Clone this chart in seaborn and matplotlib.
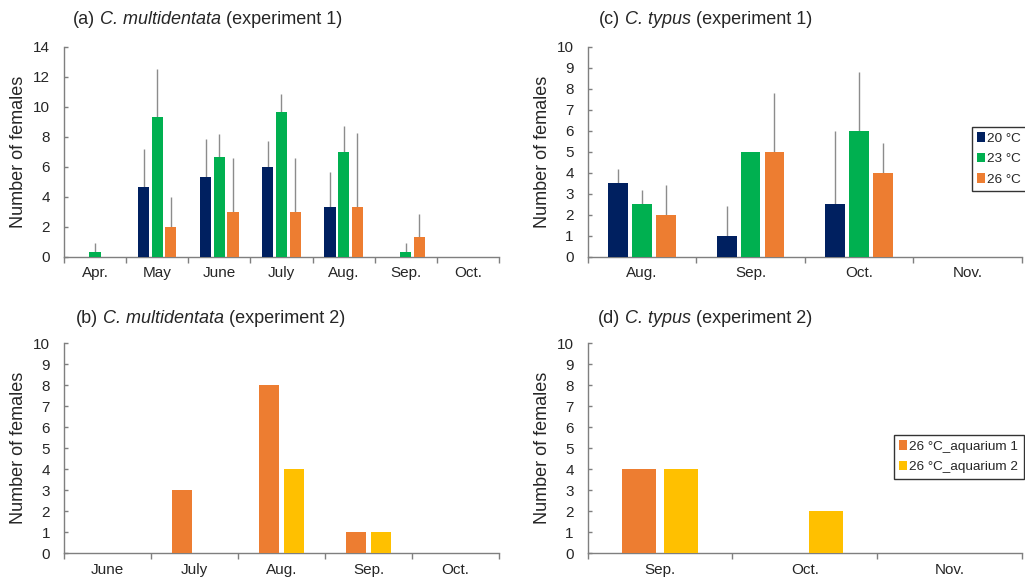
import pandas as pd
import seaborn as sns
import matplotlib.pyplot as plt
from matplotlib.ticker import MultipleLocator, FixedLocator

# (a) C. multidentata, experiment 1
months_a = ["Apr.", "May", "June", "July", "Aug.", "Sep.", "Oct."]
a_20 = [0, 4.67, 5.33, 6.0, 3.33, 0, 0]
a_23 = [0.33, 9.33, 6.67, 9.67, 7.0, 0.33, 0]
a_26 = [0, 2.0, 3.0, 3.0, 3.33, 1.33, 0]
a_20_sd = [0, 2.5, 2.5, 1.73, 2.3, 0, 0]
a_23_sd = [0.6, 3.2, 1.5, 1.15, 1.7, 0.6, 0]
a_26_sd = [0, 2.0, 3.6, 3.6, 4.9, 1.53, 0]

# (c) C. typus, experiment 1
months_c = ["Aug.", "Sep.", "Oct.", "Nov."]
c_20 = [3.5, 1.0, 2.5, 0]
c_23 = [2.5, 5.0, 6.0, 0]
c_26 = [2.0, 5.0, 4.0, 0]
c_20_sd = [0.7, 1.4, 3.5, 0]
c_23_sd = [0.7, 0, 2.8, 0]
c_26_sd = [1.4, 2.8, 1.4, 0]

# (b) C. multidentata, experiment 2
months_b = ["June", "July", "Aug.", "Sep.", "Oct."]
b_aq1 = [0, 3, 8, 1, 0]
b_aq2 = [0, 0, 4, 1, 0]

# (d) C. typus, experiment 2
months_d = ["Sep.", "Oct.", "Nov."]
d_aq1 = [4, 0, 0]
d_aq2 = [4, 2, 0]

temps = ["20 °C", "23 °C", "26 °C"]
tanks = ["26 °C_aquarium 1", "26 °C_aquarium 2"]
colors = {"20 °C": "#002060", "23 °C": "#00B050", "26 °C": "#ED7D31",
          "26 °C_aquarium 1": "#ED7D31", "26 °C_aquarium 2": "#FFC000"}

sns.set_style("white")
plt.rcParams["font.family"] = ["Liberation Sans", "DejaVu Sans"]

axis_col = "#7f7f7f"


def long_df(months, groups, series):
    rows = []
    for g, vals in zip(groups, series):
        for m, v in zip(months, vals):
            rows.append({"Month": m, "Group": g, "Count": v})
    return pd.DataFrame(rows)


def panel(ax, months, groups, series, sds, ymax, ystep, width, gap):
    df = long_df(months, groups, series)
    sns.barplot(data=df, x="Month", y="Count", hue="Group", hue_order=groups,
                order=months, palette=colors, saturation=1, width=width,
                gap=gap, errorbar=None, legend=True, ax=ax, linewidth=0,
                zorder=3)
    if sds is not None:
        for cont, sd, vals in zip(ax.containers, sds, series):
            for bar, s, v in zip(cont, sd, vals):
                if s > 0:
                    cx = bar.get_x() + bar.get_width() / 2
                    ax.vlines(cx, v, v + s, color="#8c8c8c", lw=1, zorder=2)
    n = len(months)
    ax.set_xlim(-0.5, n - 0.5)
    ax.set_ylim(0, ymax)
    ax.yaxis.set_major_locator(MultipleLocator(ystep))
    ax.xaxis.set_minor_locator(FixedLocator([i - 0.5 for i in range(n + 1)]))
    ax.tick_params(axis="x", which="major", length=0, labelsize=11, pad=7)
    ax.tick_params(axis="x", which="minor", direction="out", length=4,
                   width=1, color=axis_col, bottom=True)
    ax.tick_params(axis="y", which="major", direction="in", length=3,
                   width=1, color=axis_col, labelsize=11, pad=10, left=True)
    ax.set_xlabel("")
    ax.set_ylabel("Number of females", fontsize=13)
    ax.yaxis.set_label_coords(-0.085, 0.5)
    sns.despine(ax=ax)
    for sp in ["left", "bottom"]:
        ax.spines[sp].set_color(axis_col)
        ax.spines[sp].set_linewidth(1)
    handles, labels = ax.get_legend_handles_labels()
    ax.get_legend().remove()
    return handles, labels


def title(fig, x, y, tag, species, rest):
    kw = dict(fontsize=13, va="bottom", ha="left")
    host = fig.get_axes()[0]
    t1 = fig.text(x, y, tag, **kw)
    t2 = host.annotate(species, xy=(1, 0), xycoords=t1,
                       xytext=(3.6, 0), textcoords="offset points",
                       style="italic", annotation_clip=False, **kw)
    host.annotate(rest, xy=(1, 0), xycoords=t2,
                  xytext=(3.6, 0), textcoords="offset points",
                  annotation_clip=False, **kw)


fig = plt.figure(figsize=(10.25, 5.79), dpi=100)
ax_a = fig.add_axes([0.0624, 0.5566, 0.4244, 0.3627])
ax_c = fig.add_axes([0.5734, 0.5566, 0.4237, 0.3627])
ax_b = fig.add_axes([0.0624, 0.0444, 0.4244, 0.3627])
ax_d = fig.add_axes([0.5734, 0.0444, 0.4237, 0.3627])

panel(ax_a, months_a, temps, [a_20, a_23, a_26], [a_20_sd, a_23_sd, a_26_sd],
      14, 2, 0.66, 0.18)
h_c, l_c = panel(ax_c, months_c, temps, [c_20, c_23, c_26],
                 [c_20_sd, c_23_sd, c_26_sd], 10, 1, 0.66, 0.18)
panel(ax_b, months_b, tanks, [b_aq1, b_aq2], None, 10, 1, 0.57, 0.19)
h_d, l_d = panel(ax_d, months_d, tanks, [d_aq1, d_aq2], None, 10, 1, 0.58, 0.2)

leg_kw = dict(fontsize=9.7, frameon=True, fancybox=False, edgecolor="black",
              handlelength=0.6, handleheight=0.7, handletextpad=0.15,
              labelspacing=0.6, borderpad=0.4, borderaxespad=0,
              loc="upper left", bbox_transform=fig.transFigure)
lc = ax_c.legend(h_c, l_c, bbox_to_anchor=(0.948, 0.781), **leg_kw)
ld = ax_d.legend(h_d, l_d, bbox_to_anchor=(0.872, 0.249), **leg_kw)
for lg in (lc, ld):
    lg.get_frame().set_linewidth(1)

title(fig, 73 / 1025, 1 - 28 / 579, "(a)", "C. multidentata", "(experiment 1)")
title(fig, 599 / 1025, 1 - 28 / 579, "(c)", "C. typus", "(experiment 1)")
title(fig, 76 / 1025, 1 - 327 / 579, "(b)", "C. multidentata", "(experiment 2)")
title(fig, 598 / 1025, 1 - 327 / 579, "(d)", "C. typus", "(experiment 2)")

fig.savefig("out.png", dpi=100)
